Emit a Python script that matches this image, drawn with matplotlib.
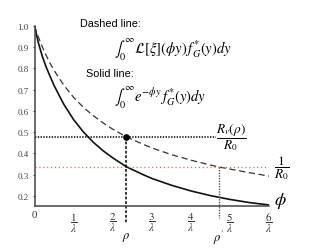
import matplotlib
matplotlib.use("Agg")
import matplotlib.pyplot as plt

# ---- data ----
phi = [0, 0.1, 0.2, 0.3, 0.4, 0.5, 0.75, 1.0, 1.25, 1.5, 1.75, 2.0, 2.35,
       2.75, 3.0, 3.5, 4.0, 4.5, 4.72, 5.0, 5.5, 6.0]
solid = [1.0, 0.92, 0.857, 0.806, 0.762, 0.720, 0.631, 0.559, 0.501, 0.453,
         0.413, 0.379, 0.337, 0.302, 0.282, 0.250, 0.223, 0.201, 0.193,
         0.183, 0.168, 0.157]
dashed = [1.0, 0.948, 0.902, 0.861, 0.824, 0.791, 0.721, 0.664, 0.617, 0.578,
          0.544, 0.514, 0.478, 0.445, 0.426, 0.394, 0.368, 0.345, 0.336,
          0.326, 0.309, 0.293]
rho = 2.35
rho_prime = 4.72
rv_over_r0 = 0.478
inv_r0 = 0.335
yticks = [0.2, 0.3, 0.4, 0.5, 0.6, 0.7, 0.8, 0.9, 1.0]
xticks = [0, 1, 2, 3, 4, 5, 6]
xticklabels = ["0"] + [r"$\dfrac{%d}{\lambda}$" % k for k in range(1, 7)]

plt.rcParams["mathtext.fontset"] = "stix"
plt.rcParams["lines.scale_dashes"] = False

W, H = 312, 253
fig = plt.figure(figsize=(W / 100, H / 100), dpi=100)
ax = fig.add_axes([34.5 / W, 1 - 207 / H, (269 - 34.5) / W, (207 - 27) / H])
y0, y1 = 0.152, 1.0
ax.set_xlim(0, 6)
ax.set_ylim(y0, y1)

ax.plot(phi, solid, color="#111111", lw=1.2, solid_capstyle="round")
ax.plot(phi, dashed, color="#333333", lw=0.9, dashes=(4.5, 2.6))

# reference lines
ax.plot([0, 4.65], [rv_over_r0, rv_over_r0], color="black", lw=1.1,
        dashes=(1.0, 1.0))
ax.plot([0, 6], [inv_r0, inv_r0], color="#e05a5a", lw=0.9, dashes=(0.8, 2.0))
ax.plot([rho, rho], [rv_over_r0, y0 - 0.08], color="black", lw=1.1,
        dashes=(2.0, 1.3), clip_on=False)
ax.plot([rho_prime, rho_prime], [inv_r0, y0 - 0.055], color="#555555", lw=1.0,
        dashes=(1.0, 0.9), clip_on=False)
ax.plot([rho], [rv_over_r0], "o", color="black", ms=3.8)

for s in ["top", "right"]:
    ax.spines[s].set_visible(False)
for s in ["left", "bottom"]:
    ax.spines[s].set_color("#444444")
    ax.spines[s].set_linewidth(1.1)

ax.set_yticks(yticks)
ax.set_yticklabels(["%.1f" % v for v in yticks], family="Liberation Serif",
                   fontsize=6.5, color="#333333")
ax.tick_params(axis="y", length=1.5, width=0.8, pad=2.5, colors="#444444")
ax.set_xticks(xticks)
ax.set_xticklabels(xticklabels, fontsize=7.8, color="#333333",
                   family="Liberation Serif")
ax.tick_params(axis="x", length=0, pad=3, colors="#333333")

# labels below the axis
ax.text(rho, y0 - 0.145, r"$\rho$", ha="center", va="center", fontsize=9)
ax.text(rho_prime, y0 - 0.145, r"$\rho'$", ha="center", va="center", fontsize=9)
ax.text(6.3, 0.18, r"$\phi$", ha="center", va="center", fontsize=13)

# fraction labels at right
ax.text(5.04, rv_over_r0, r"$\dfrac{R_v(\rho)}{R_0}$", ha="center",
        va="center", fontsize=9.5, clip_on=False)
ax.text(6.32, inv_r0, r"$\dfrac{1}{R_0}$", ha="center", va="center",
        fontsize=9.5, clip_on=False)

# legend text block
fig.text(80 / W, 1 - 24 / H, "Dashed line:", family="Liberation Sans",
         fontsize=7.8, ha="left", va="center")
fig.text(114 / W, 1 - 50 / H,
         r"$\int_0^{\infty}\mathcal{L}[\xi](\phi y)\, f_G^{*}(y)dy$",
         fontsize=10.5, ha="left", va="center")
fig.text(86 / W, 1 - 74 / H, "Solid line:", family="Liberation Sans",
         fontsize=7.8, ha="left", va="center")
fig.text(114 / W, 1 - 98 / H,
         r"$\int_0^{\infty} e^{-\phi y}\, f_G^{*}(y)dy$",
         fontsize=10.5, ha="left", va="center")

fig.savefig("out.png", dpi=100)
